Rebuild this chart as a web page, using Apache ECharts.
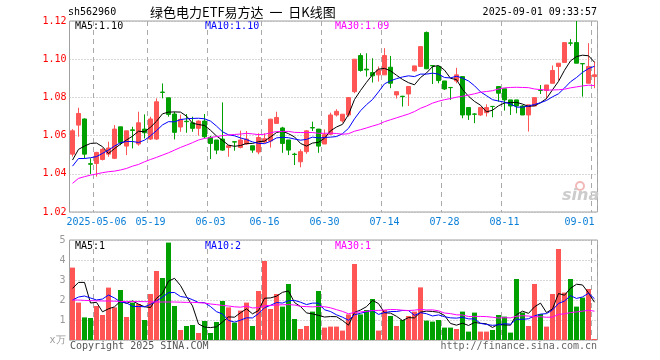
<!DOCTYPE html>
<html><head><meta charset="utf-8">
<script src="https://cdn.jsdelivr.net/npm/echarts@6/dist/echarts.min.js"></script>
<style>html,body{margin:0;padding:0;background:#fff}#c{width:660px;height:360px}</style>
</head><body><div id="c"></div>
<script>
const dates = ['2025-04-25','2025-04-28','2025-04-29','2025-04-30','2025-05-06','2025-05-07','2025-05-08','2025-05-09','2025-05-12','2025-05-13','2025-05-14','2025-05-15','2025-05-16','2025-05-19','2025-05-20','2025-05-21','2025-05-22','2025-05-23','2025-05-26','2025-05-27','2025-05-28','2025-05-29','2025-05-30','2025-06-03','2025-06-04','2025-06-05','2025-06-06','2025-06-09','2025-06-10','2025-06-11','2025-06-12','2025-06-13','2025-06-16','2025-06-17','2025-06-18','2025-06-19','2025-06-20','2025-06-23','2025-06-24','2025-06-25','2025-06-26','2025-06-27','2025-06-30','2025-07-01','2025-07-02','2025-07-03','2025-07-04','2025-07-07','2025-07-08','2025-07-09','2025-07-10','2025-07-11','2025-07-14','2025-07-15','2025-07-16','2025-07-17','2025-07-18','2025-07-21','2025-07-22','2025-07-23','2025-07-24','2025-07-25','2025-07-28','2025-07-29','2025-07-30','2025-07-31','2025-08-01','2025-08-04','2025-08-05','2025-08-06','2025-08-07','2025-08-08','2025-08-11','2025-08-12','2025-08-13','2025-08-14','2025-08-15','2025-08-18','2025-08-19','2025-08-20','2025-08-21','2025-08-22','2025-08-25','2025-08-26','2025-08-27','2025-08-28','2025-08-29','2025-09-01'];

const open = [1.0503,1.0655,1.0687,1.0453,1.0454,1.0475,1.0503,1.0481,1.0646,1.0545,
1.0630,1.0556,1.0634,1.0582,1.0582,1.0828,1.0798,1.0713,1.0645,1.0675,
1.0667,1.0638,1.0676,1.0591,1.0577,1.0582,1.0538,1.0568,1.0538,1.0556,
1.0547,1.0514,1.0566,1.0572,1.0664,1.0640,1.0577,1.0503,1.0463,1.0516,
1.0642,1.0634,1.0556,1.0607,1.0708,1.0677,1.0708,1.0830,1.1019,1.0948,
1.0930,1.0918,1.0918,1.0958,1.0813,1.0806,1.0818,1.0939,1.0962,1.1140,
1.0967,1.0962,1.0886,1.0852,1.0886,1.0909,1.0747,1.0713,1.0708,1.0720,
1.0753,1.0857,1.0845,1.0787,1.0787,1.0755,1.0708,1.0755,1.0837,1.0836,
1.0874,1.0962,1.0983,1.1085,1.1087,1.0977,1.0874,1.0909];
const close = [1.0625,1.0716,1.0503,1.0450,1.0512,1.0528,1.0535,1.0634,1.0564,1.0625,
1.0627,1.0667,1.0615,1.0687,1.0777,1.0826,1.0711,1.0617,1.0685,1.0673,
1.0638,1.0676,1.0594,1.0559,1.0524,1.0524,1.0547,1.0566,1.0577,1.0582,
1.0524,1.0590,1.0584,1.0686,1.0695,1.0559,1.0524,1.0501,1.0516,1.0625,
1.0640,1.0545,1.0605,1.0708,1.0727,1.0712,1.0799,1.1000,1.0941,1.0944,
1.0913,1.0944,1.1019,1.0874,1.0830,1.0804,1.0857,1.0965,1.1066,1.0950,
1.0965,1.0888,1.0844,1.0851,1.0918,1.0708,1.0708,1.0712,1.0747,1.0747,
1.0752,1.0822,1.0787,1.0755,1.0755,1.0708,1.0761,1.0799,1.0836,1.0865,
1.0941,1.0979,1.1087,1.1084,1.0979,1.0976,1.0962,1.0918];
const low = [1.0490,1.0594,1.0480,1.0399,1.0385,1.0470,1.0489,1.0477,1.0550,1.0498,
1.0533,1.0547,1.0585,1.0577,1.0577,1.0795,1.0699,1.0580,1.0620,1.0615,
1.0620,1.0600,1.0585,1.0477,1.0503,1.0520,1.0489,1.0521,1.0533,1.0551,
1.0510,1.0502,1.0560,1.0537,1.0664,1.0510,1.0498,1.0446,1.0434,1.0505,
1.0624,1.0510,1.0556,1.0603,1.0700,1.0668,1.0699,1.0822,1.0935,1.0909,
1.0878,1.0883,1.0918,1.0848,1.0794,1.0752,1.0755,1.0935,1.0962,1.0948,
1.0870,1.0874,1.0839,1.0787,1.0874,1.0691,1.0682,1.0665,1.0703,1.0700,
1.0696,1.0778,1.0731,1.0708,1.0717,1.0708,1.0621,1.0755,1.0818,1.0790,
1.0874,1.0888,1.0983,1.1070,1.0979,1.0804,1.0874,1.0848];
const high = [1.0634,1.0746,1.0690,1.0481,1.0515,1.0535,1.0568,1.0655,1.0646,1.0625,
1.0646,1.0725,1.0711,1.0699,1.0795,1.0873,1.0798,1.0725,1.0710,1.0713,
1.0699,1.0680,1.0713,1.0598,1.0577,1.0774,1.0550,1.0570,1.0626,1.0624,
1.0547,1.0612,1.0612,1.0688,1.0725,1.0646,1.0577,1.0510,1.0528,1.0629,
1.0673,1.0634,1.0632,1.0720,1.0738,1.0712,1.0799,1.1000,1.1031,1.1031,
1.1005,1.0962,1.1058,1.1017,1.0830,1.0808,1.0857,1.0965,1.1066,1.1145,
1.0967,1.0962,1.0886,1.0852,1.0955,1.0909,1.0747,1.0717,1.0747,1.0764,
1.0755,1.0857,1.0845,1.0787,1.0787,1.0760,1.0761,1.0799,1.0865,1.0865,
1.0967,1.0979,1.1087,1.1105,1.1200,1.0977,1.1084,1.0988];
const volume = [3.62,1.87,1.13,1.10,1.70,1.25,2.62,1.63,2.50,1.15,
1.87,1.80,1.00,2.30,3.45,3.10,4.87,1.70,0.50,0.70,
0.75,0.35,0.95,0.35,0.90,1.95,1.63,0.87,1.47,1.87,
0.70,2.45,3.95,1.55,2.30,1.67,2.80,1.05,0.55,0.70,
1.42,2.45,0.62,0.67,0.67,0.47,1.28,3.80,1.28,1.50,
2.05,0.47,1.50,1.20,0.70,1.00,1.20,1.42,2.63,0.97,
0.92,1.00,0.62,0.62,0.55,1.42,0.42,1.37,0.42,0.42,
0.50,1.25,1.17,0.37,3.05,1.37,0.70,2.80,1.30,0.67,
2.30,4.55,2.37,3.05,1.67,2.12,2.55,0.05];

// moving-average values before enough in-window days exist
const ma5Head = [1.0472,1.0528,1.0545,1.0559];
const ma10Head = [1.0440,1.0480,1.0480,1.0484,1.0490,1.0507,1.0524,1.0545,1.0563];
const ma30Head = [1.0350,1.0376,1.0385,1.0393,1.0399,1.0406,1.0411,1.0414,1.0420,1.0428,
1.0440,1.0449,1.0463,1.0475,1.0486,1.0498,1.0510,1.0524,1.0538,1.0550,
1.0563,1.0577,1.0585,1.0590,1.0595,1.0600,1.0603,1.0606,1.0608];
const vma5Head = [2.58,2.88,2.88,1.85];
const vma10Head = [2.00,2.15,2.20,2.10,2.00,2.05,2.25,2.10,1.90];
const vma30Head = [2.00,2.00,1.98,1.97,1.96,1.95,1.95,1.94,1.93,1.92,
1.92,1.92,1.92,1.91,1.90,1.90,1.90,1.90,1.89,1.88,
1.88,1.87,1.85,1.80,1.77,1.73,1.70,1.66,1.64];

const tickIdx = [4,13,23,32,42,52,62,72,87];
const tickLabels = ['2025-05-06','05-19','06-03','06-16','06-30','07-14','07-28','08-11','09-01'];

function movingAvg(values, n, head, dp) {
  return values.map((v, i) => {
    if (i < n - 1) return head[i];
    let s = 0;
    for (let k = i - n + 1; k <= i; k++) s += values[k];
    return +(s / n).toFixed(dp);
  });
}
const ma5 = movingAvg(close, 5, ma5Head, 4);
const ma10 = movingAvg(close, 10, ma10Head, 4);
const ma30 = movingAvg(close, 30, ma30Head, 4);
const vma5 = movingAvg(volume, 5, vma5Head, 3);
const vma10 = movingAvg(volume, 10, vma10Head, 3);
const vma30 = movingAvg(volume, 30, vma30Head, 3);

const UP = '#ff5555', DOWN = '#00a000';
const MONO = 'DejaVu Sans Mono';
const tickFn = (idx) => tickIdx.indexOf(idx) >= 0;
const vDash = {show: true, interval: tickFn, lineStyle: {color: '#aaaaaa', width: 1, type: [5, 4]}};
const hDot = {show: true, lineStyle: {color: '#b0b0b0', width: 1, type: [1, 2]}};

const chart = echarts.init(document.getElementById('c'), null, {renderer: 'canvas'});
const lineS = (name, data, color, xi, yi) => ({
  name, type: 'line', data, xAxisIndex: xi, yAxisIndex: yi, showSymbol: false, symbol: 'none',
  lineStyle: {width: 1, color}, itemStyle: {color}, silent: true, z: 5
});

chart.setOption({
  animation: false,
  backgroundColor: '#ffffff',
  grid: [
    {left: 69.5, width: 528, top: 21, height: 191, show: true, borderColor: '#a0a0a0', borderWidth: 1},
    {left: 69.5, width: 528, top: 240, height: 100, show: true, borderColor: '#a0a0a0', borderWidth: 1}
  ],
  xAxis: [
    {type: 'category', data: dates, gridIndex: 0, boundaryGap: true,
     axisLine: {show: false}, axisTick: {show: false},
     axisLabel: {interval: tickFn, formatter: (v, i) => tickLabels[tickIdx.indexOf(i)] || '',
       color: '#0a7fd8', fontFamily: MONO, fontSize: 10, margin: 5, alignMaxLabel: 'right'},
     splitLine: vDash},
    {type: 'category', data: dates, gridIndex: 1, boundaryGap: true,
     axisLine: {show: false}, axisTick: {show: false}, axisLabel: {show: false},
     splitLine: vDash}
  ],
  yAxis: [
    {type: 'value', gridIndex: 0, min: 1.02, max: 1.12, interval: 0.02,
     axisLine: {show: false}, axisTick: {show: false},
     axisLabel: {color: '#ff0000', fontFamily: MONO, fontSize: 10, margin: 3, formatter: v => v.toFixed(2)},
     splitLine: hDot},
    {type: 'value', gridIndex: 1, min: 0, max: 5, interval: 1,
     axisLine: {show: false}, axisTick: {show: false},
     axisLabel: {color: '#999999', fontFamily: MONO, fontSize: 10, margin: 4,
       formatter: v => v === 0 ? 'x万' : String(v)},
     splitLine: hDot}
  ],
  series: [
    {type: 'candlestick', xAxisIndex: 0, yAxisIndex: 0, barWidth: 5,
     data: dates.map((d, i) => [open[i], close[i], low[i], high[i]]),
     itemStyle: {color: UP, color0: DOWN, borderColor: UP, borderColor0: DOWN, borderWidth: 1}, z: 3},
    lineS('MA5', ma5, '#000000', 0, 0),
    lineS('MA10', ma10, '#0000ff', 0, 0),
    lineS('MA30', ma30, '#ff00ff', 0, 0),
    {type: 'bar', xAxisIndex: 1, yAxisIndex: 1, barWidth: 5,
     data: volume.map((v, i) => ({value: v, itemStyle: {color: close[i] >= open[i] ? UP : DOWN}})), z: 3},
    lineS('VMA5', vma5, '#000000', 1, 1),
    lineS('VMA10', vma10, '#0000ff', 1, 1),
    lineS('VMA30', vma30, '#ff00ff', 1, 1)
  ],
  graphic: [
    {type: 'text', left: 68, top: 7, style: {text: 'sh562960', font: '10px "DejaVu Sans Mono"', fill: '#000'}},
    {type: 'text', left: 150, top: 6, style: {text: '绿色电力ETF易方达  一  日K线图', font: '13px "Noto Sans CJK SC"', fill: '#000'}},
    {type: 'text', right: 63, top: 7, style: {text: '2025-09-01 09:33:57', font: '10px "DejaVu Sans Mono"', fill: '#000'}},
    {type: 'text', left: 75, top: 21, style: {text: 'MA5:1.10', font: '10px "DejaVu Sans Mono"', fill: '#000'}},
    {type: 'text', left: 205, top: 21, style: {text: 'MA10:1.10', font: '10px "DejaVu Sans Mono"', fill: '#0000ff'}},
    {type: 'text', left: 335, top: 21, style: {text: 'MA30:1.09', font: '10px "DejaVu Sans Mono"', fill: '#ff00ff'}},
    {type: 'text', left: 75, top: 241, style: {text: 'MA5:1', font: '10px "DejaVu Sans Mono"', fill: '#000'}},
    {type: 'text', left: 205, top: 241, style: {text: 'MA10:2', font: '10px "DejaVu Sans Mono"', fill: '#0000ff'}},
    {type: 'text', left: 335, top: 241, style: {text: 'MA30:1', font: '10px "DejaVu Sans Mono"', fill: '#ff00ff'}},
    {type: 'text', left: 70, top: 341, style: {text: 'Copyright 2025 SINA.COM', font: '10px "DejaVu Sans Mono"', fill: '#555'}},
    {type: 'text', right: 63, top: 341, style: {text: 'http://finance.sina.com.cn', font: '10px "DejaVu Sans Mono"', fill: '#666'}},
    {type: 'circle', shape: {cx: 580, cy: 186, r: 4}, style: {fill: 'none', stroke: '#f2b8b8', lineWidth: 2}, z: 1},
    {type: 'text', left: 562, top: 188, z: 1, style: {text: 'sina', font: 'italic bold 16px "DejaVu Sans"', fill: '#cccccc'}}
  ]
});
</script>
</body></html>
